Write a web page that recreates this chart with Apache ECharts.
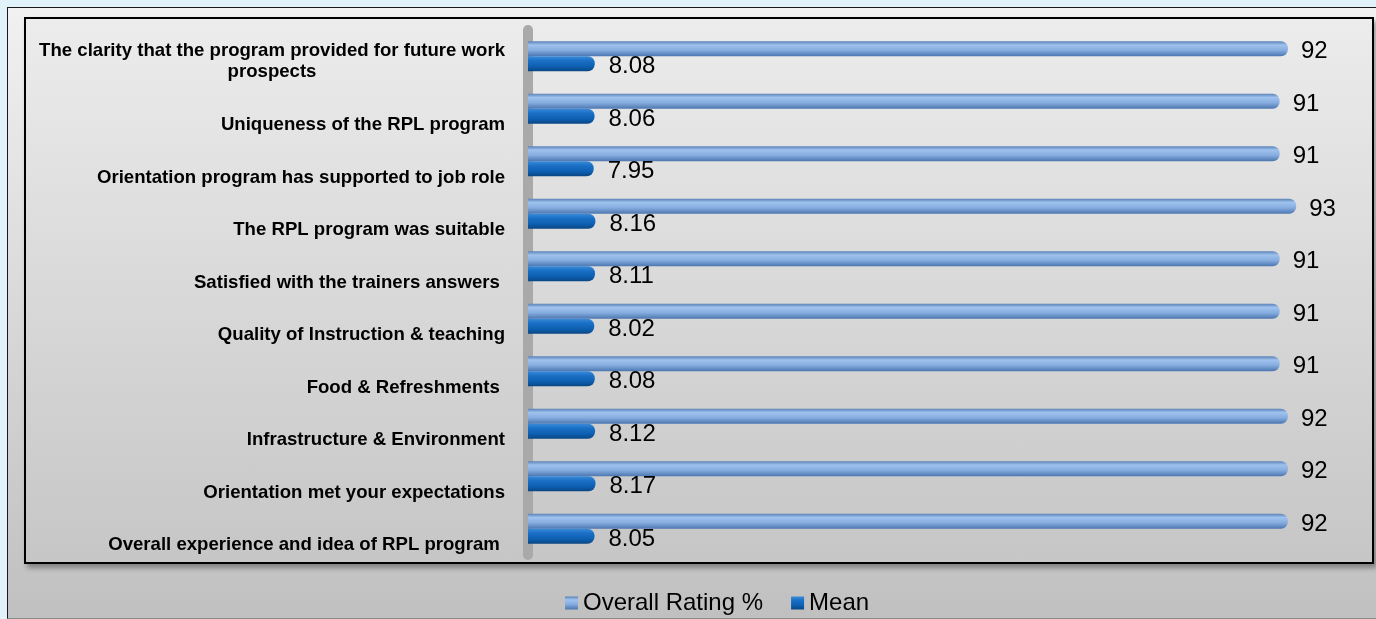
<!DOCTYPE html>
<html>
<head>
<meta charset="utf-8">
<script src="https://cdn.jsdelivr.net/npm/echarts@6/dist/echarts.min.js"></script>
<style>
  html, body { margin: 0; padding: 0; width: 1376px; height: 619px; overflow: hidden; background: #e2f2fa; }
  #outer { position: absolute; left: 7px; top: 7px; width: 1380px; height: 610px;
           border-left: 1px solid #1a1a1a; border-top: 1px solid #1a1a1a; border-bottom: 1px solid #8a8a8a;
           background: linear-gradient(#f1f1f1, #c0c0c0); }
  #inner { position: absolute; left: 24px; top: 17px; width: 1346px; height: 543px;
           border: 2px solid #000; box-shadow: 3px 4px 5px rgba(0,0,0,0.35);
           background: linear-gradient(#ececec, #c6c6c6); }
  #chart { position: absolute; left: 0; top: 0; width: 1376px; height: 619px; }
</style>
</head>
<body>
<div id="outer"></div>
<div id="inner"></div>
<div id="chart"></div>
<script>
const categories = [
  "The clarity that the program provided for future work\nprospects",
  "Uniqueness of the RPL program",
  "Orientation program has supported to job role",
  "The RPL program was suitable",
  "Satisfied with the trainers answers ",
  "Quality of Instruction & teaching",
  "Food & Refreshments ",
  "Infrastructure & Environment",
  "Orientation met your expectations",
  "Overall experience and idea of RPL program "
];
const overallRating = [92, 91, 91, 93, 91, 91, 91, 92, 92, 92];
const meanValues = [8.08, 8.06, 7.95, 8.16, 8.11, 8.02, 8.08, 8.12, 8.17, 8.05];
const seriesNames = ["Overall Rating %", "Mean"];

const FONT = "'Liberation Sans', Arial, sans-serif";
const chart = echarts.init(document.getElementById('chart'), null, { renderer: 'canvas' });

const lightGrad = new echarts.graphic.LinearGradient(0, 0, 0, 1, [
  { offset: 0, color: '#5b82b8' },
  { offset: 0.25, color: '#9fc2ee' },
  { offset: 0.6, color: '#86addf' },
  { offset: 1, color: '#4c76b0' }
]);
const darkGrad = new echarts.graphic.LinearGradient(0, 0, 0, 1, [
  { offset: 0, color: '#3a8ad8' },
  { offset: 0.3, color: '#1a70c6' },
  { offset: 0.7, color: '#0d5eb0' },
  { offset: 1, color: '#0a4682' }
]);

const option = {
  animation: false,
  backgroundColor: 'transparent',
  textStyle: { fontFamily: FONT },
  grid: { left: 528, right: 22, top: 30, bottom: 64, containLabel: false },
  legend: {
    data: seriesNames,
    left: 560, top: 586,
    icon: 'rect', itemWidth: 13, itemHeight: 13, itemGap: 28,
    textStyle: { fontSize: 24, color: '#000', fontFamily: FONT }
  },
  xAxis: {
    type: 'value', min: 0, max: 100,
    show: false
  },
  yAxis: {
    type: 'category',
    data: categories,
    inverse: true,
    axisTick: { show: false },
    axisLine: { show: true, lineStyle: { color: '#a9a9a9', width: 10 } },
    axisLabel: {
      margin: 23,
      color: '#000',
      formatter: function (v) {
        const parts = v.split('\n');
        if (parts.length > 1) {
          return '{sp2| }\n{b2|' + parts[0] + '}\n{c2|' + parts[1] + '}';
        }
        return '{sp| }\n{b|' + v + '}';
      },
      rich: {
        sp: { fontSize: 1, lineHeight: 33, height: 33 },
        sp2: { fontSize: 1, lineHeight: 11, height: 11 },
        b: { fontSize: 18.6, fontWeight: 'bold', lineHeight: 18, color: '#000', fontFamily: FONT },
        b2: { fontSize: 18.6, fontWeight: 'bold', lineHeight: 21, color: '#000', fontFamily: FONT },
        c2: { fontSize: 18.6, fontWeight: 'bold', lineHeight: 21, color: '#000', fontFamily: FONT, align: 'center' }
      }
    }
  },
  series: [
    {
      name: seriesNames[0],
      type: 'bar',
      data: overallRating,
      barWidth: 15,
      barGap: '0%',
      itemStyle: { color: lightGrad, borderRadius: [0, 7, 7, 0] },
      label: {
        show: true, position: 'right', distance: 13, offset: [0, 3],
        fontSize: 24, color: '#000', fontFamily: FONT
      }
    },
    {
      name: seriesNames[1],
      type: 'bar',
      data: meanValues,
      barWidth: 15,
      barGap: '0%',
      itemStyle: { color: darkGrad, borderRadius: [0, 7, 7, 0] },
      label: {
        show: true, position: 'right', distance: 14, offset: [0, 3],
        fontSize: 24, color: '#000', fontFamily: FONT
      }
    }
  ]
};
chart.setOption(option);
</script>
</body>
</html>
